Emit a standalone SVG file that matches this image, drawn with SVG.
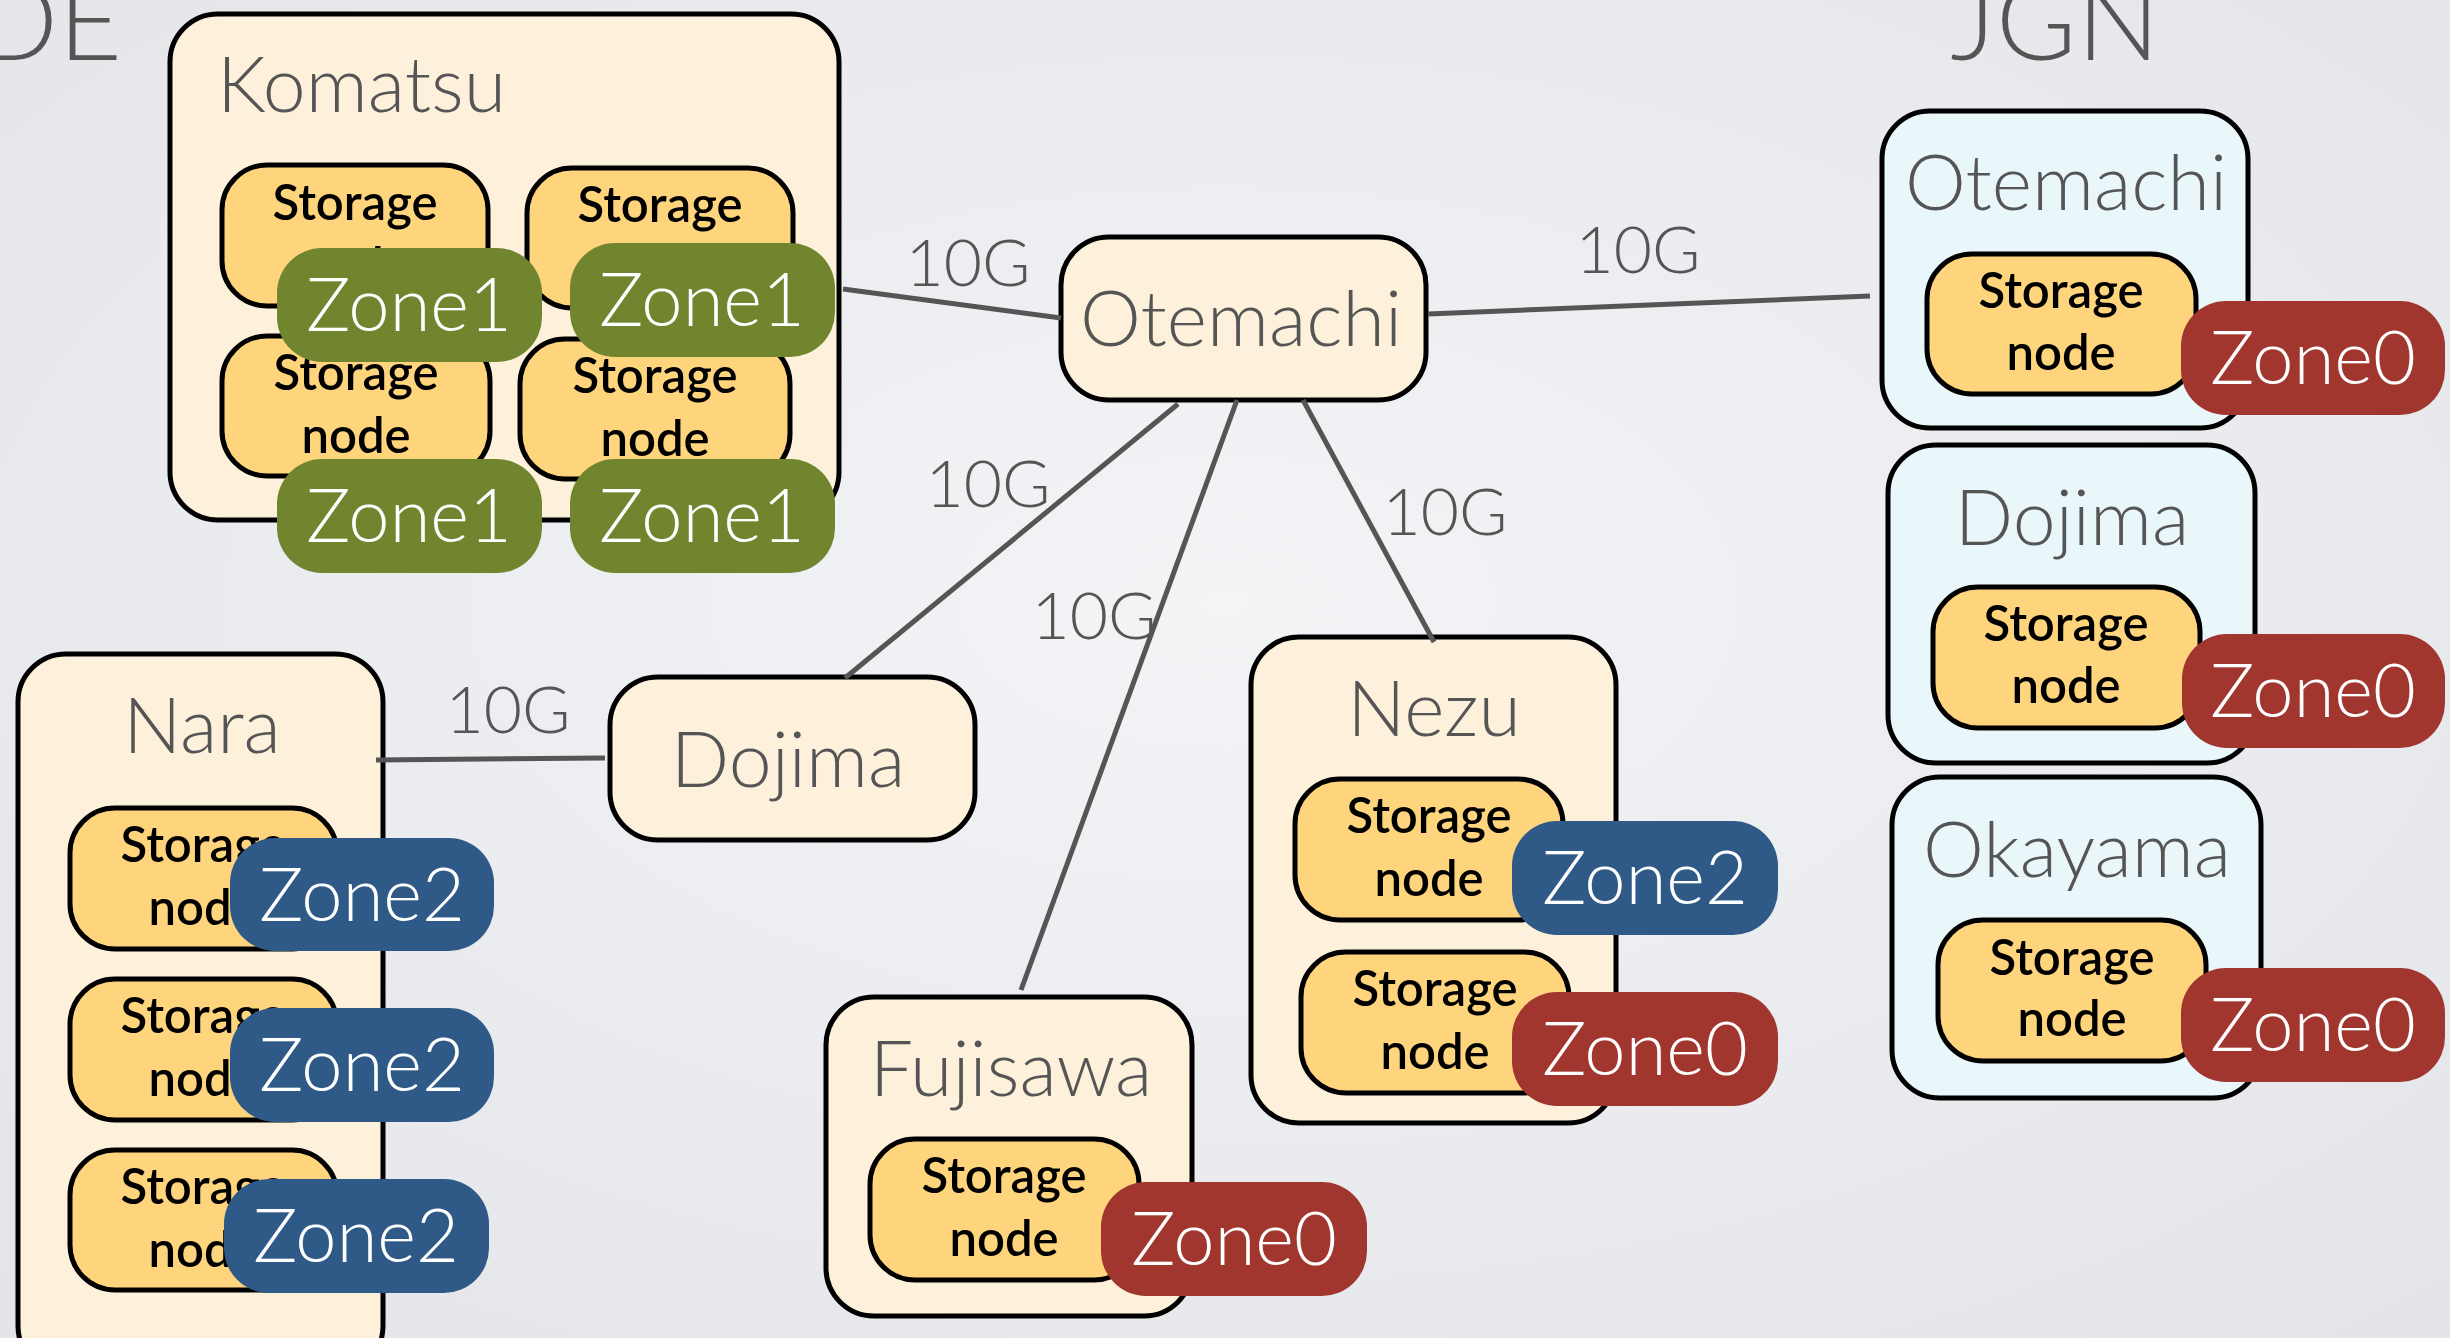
<svg xmlns="http://www.w3.org/2000/svg" width="2450" height="1338" viewBox="0 0 2450 1338">
  <defs>
    <radialGradient id="bg" cx="50%" cy="45%" r="75%">
      <stop offset="0" stop-color="#f3f4f6"/>
      <stop offset="1" stop-color="#e2e4e8"/>
    </radialGradient>
    <style>
      text { font-family: Lato, "Open Sans", "Liberation Sans", sans-serif; }
      .site { fill: #fdf1dc; stroke: #000; stroke-width: 5; }
      .jgn  { fill: #e9f7fb; stroke: #000; stroke-width: 5; }
      .sn   { fill: #fed47d; stroke: #000; stroke-width: 5; }
      .z0   { fill: #a1362f; }
      .z1   { fill: #71852f; }
      .z2   { fill: #2f5a87; }
      .ttl  { font-weight: 300; font-size: 77px; fill: #555; text-anchor: middle; }
      .head { font-weight: 300; font-size: 110px; fill: #555; }
      .snt  { font-weight: 600; font-size: 49px; fill: #000; text-anchor: middle; }
      .zt   { font-weight: 300; font-size: 74px; fill: #fff; text-anchor: middle; }
      .bw   { font-weight: 300; font-size: 66px; fill: #555; text-anchor: middle; }
      .link { stroke: #555; stroke-width: 5; fill: none; }
    </style>
  </defs>

  <rect width="2450" height="1338" fill="url(#bg)"/>

  <!-- section headings -->
  <text class="head" x="122" y="60" text-anchor="end">DE</text>
  <text class="head" x="2055" y="60" text-anchor="middle">JGN</text>

  <!-- Komatsu site -->
  <g id="komatsu">
    <rect class="site" x="170" y="14" width="669" height="506" rx="48"/>
    <text class="ttl" x="217" y="112" style="text-anchor:start">Komatsu</text>
    <rect class="sn" x="222" y="165" width="266" height="141" rx="45"/>
    <text class="snt" x="355" y="220">Storage</text>
    <text class="snt" x="355" y="283">node</text>
    <rect class="sn" x="527" y="168" width="266" height="140" rx="45"/>
    <text class="snt" x="660" y="222">Storage</text>
    <text class="snt" x="660" y="285">node</text>
    <rect class="sn" x="222" y="336" width="268" height="140" rx="45"/>
    <text class="snt" x="356" y="390">Storage</text>
    <text class="snt" x="356" y="453">node</text>
    <rect class="sn" x="520" y="339" width="270" height="140" rx="45"/>
    <text class="snt" x="655" y="393">Storage</text>
    <text class="snt" x="655" y="456">node</text>
    <rect class="z1" x="277" y="248" width="265" height="114" rx="45"/>
    <text class="zt" x="409" y="331">Zone1</text>
    <rect class="z1" x="570" y="243" width="265" height="114" rx="45"/>
    <text class="zt" x="702" y="326">Zone1</text>
    <rect class="z1" x="277" y="459" width="265" height="114" rx="45"/>
    <text class="zt" x="409" y="542">Zone1</text>
    <rect class="z1" x="570" y="459" width="265" height="114" rx="45"/>
    <text class="zt" x="702" y="542">Zone1</text>
  </g>

  <!-- Otemachi hub -->
  <g id="otemachi-hub">
    <rect class="site" x="1061" y="237" width="365" height="163" rx="48"/>
    <text class="ttl" x="1241" y="346">Otemachi</text>
  </g>

  <!-- Dojima hub -->
  <g id="dojima-hub">
    <rect class="site" x="610" y="677" width="365" height="163" rx="48"/>
    <text class="ttl" x="788" y="787">Dojima</text>
  </g>

  <!-- Nara site -->
  <g id="nara">
    <rect class="site" x="18" y="654" width="365" height="720" rx="48"/>
    <text class="ttl" x="202" y="753">Nara</text>
    <rect class="sn" x="70" y="808" width="267" height="141" rx="45"/>
    <text class="snt" x="203" y="862">Storage</text>
    <text class="snt" x="203" y="925">node</text>
    <rect class="sn" x="70" y="979" width="267" height="141" rx="45"/>
    <text class="snt" x="203" y="1033">Storage</text>
    <text class="snt" x="203" y="1096">node</text>
    <rect class="sn" x="70" y="1150" width="267" height="140" rx="45"/>
    <text class="snt" x="203" y="1204">Storage</text>
    <text class="snt" x="203" y="1267">node</text>
    <rect class="z2" x="230" y="838" width="264" height="113" rx="45"/>
    <text class="zt" x="362" y="921">Zone2</text>
    <rect class="z2" x="230" y="1008" width="264" height="114" rx="45"/>
    <text class="zt" x="362" y="1091">Zone2</text>
    <rect class="z2" x="224" y="1179" width="265" height="114" rx="45"/>
    <text class="zt" x="356" y="1262">Zone2</text>
  </g>

  <!-- Nezu site -->
  <g id="nezu">
    <rect class="site" x="1251" y="637" width="365" height="486" rx="48"/>
    <text class="ttl" x="1434" y="736">Nezu</text>
    <rect class="sn" x="1295" y="779" width="268" height="141" rx="45"/>
    <text class="snt" x="1429" y="833">Storage</text>
    <text class="snt" x="1429" y="896">node</text>
    <rect class="sn" x="1301" y="952" width="268" height="141" rx="45"/>
    <text class="snt" x="1435" y="1006">Storage</text>
    <text class="snt" x="1435" y="1069">node</text>
    <rect class="z2" x="1512" y="821" width="266" height="114" rx="45"/>
    <text class="zt" x="1645" y="904">Zone2</text>
    <rect class="z0" x="1512" y="992" width="266" height="114" rx="45"/>
    <text class="zt" x="1645" y="1075">Zone0</text>
  </g>

  <!-- Fujisawa site -->
  <g id="fujisawa">
    <rect class="site" x="826" y="997" width="366" height="319" rx="48"/>
    <text class="ttl" x="1011" y="1096">Fujisawa</text>
    <rect class="sn" x="870" y="1139" width="269" height="141" rx="45"/>
    <text class="snt" x="1004" y="1193">Storage</text>
    <text class="snt" x="1004" y="1256">node</text>
    <rect class="z0" x="1101" y="1182" width="266" height="114" rx="45"/>
    <text class="zt" x="1234" y="1265">Zone0</text>
  </g>

  <!-- JGN Otemachi -->
  <g id="jgn-otemachi">
    <rect class="jgn" x="1882" y="111" width="366" height="317" rx="48"/>
    <text class="ttl" x="2066" y="210">Otemachi</text>
    <rect class="sn" x="1927" y="254" width="269" height="140" rx="45"/>
    <text class="snt" x="2061" y="308">Storage</text>
    <text class="snt" x="2061" y="370">node</text>
    <rect class="z0" x="2181" y="301" width="264" height="114" rx="45"/>
    <text class="zt" x="2313" y="384">Zone0</text>
  </g>

  <!-- JGN Dojima -->
  <g id="jgn-dojima">
    <rect class="jgn" x="1888" y="445" width="367" height="318" rx="48"/>
    <text class="ttl" x="2072" y="545">Dojima</text>
    <rect class="sn" x="1933" y="587" width="267" height="141" rx="45"/>
    <text class="snt" x="2066" y="641">Storage</text>
    <text class="snt" x="2066" y="703">node</text>
    <rect class="z0" x="2182" y="634" width="263" height="114" rx="45"/>
    <text class="zt" x="2313" y="717">Zone0</text>
  </g>

  <!-- JGN Okayama -->
  <g id="jgn-okayama">
    <rect class="jgn" x="1892" y="777" width="369" height="321" rx="48"/>
    <text class="ttl" x="2077" y="877">Okayama</text>
    <rect class="sn" x="1938" y="920" width="268" height="141" rx="45"/>
    <text class="snt" x="2072" y="975">Storage</text>
    <text class="snt" x="2072" y="1036">node</text>
    <rect class="z0" x="2181" y="968" width="264" height="114" rx="45"/>
    <text class="zt" x="2313" y="1051">Zone0</text>
  </g>

  <!-- 10G links -->
  <g id="links">
    <line class="link" x1="843" y1="289" x2="1061" y2="318"/>
    <line class="link" x1="1428" y1="314" x2="1870" y2="296"/>
    <line class="link" x1="1178" y1="404" x2="845" y2="678"/>
    <line class="link" x1="1237" y1="400" x2="1021" y2="990"/>
    <line class="link" x1="1303" y1="400" x2="1434" y2="642"/>
    <line class="link" x1="376" y1="760" x2="605" y2="758"/>
    <text class="bw" x="968" y="286">10G</text>
    <text class="bw" x="1638" y="273">10G</text>
    <text class="bw" x="988" y="507">10G</text>
    <text class="bw" x="1094" y="639">10G</text>
    <text class="bw" x="1445" y="535">10G</text>
    <text class="bw" x="508" y="733">10G</text>
  </g>
</svg>
